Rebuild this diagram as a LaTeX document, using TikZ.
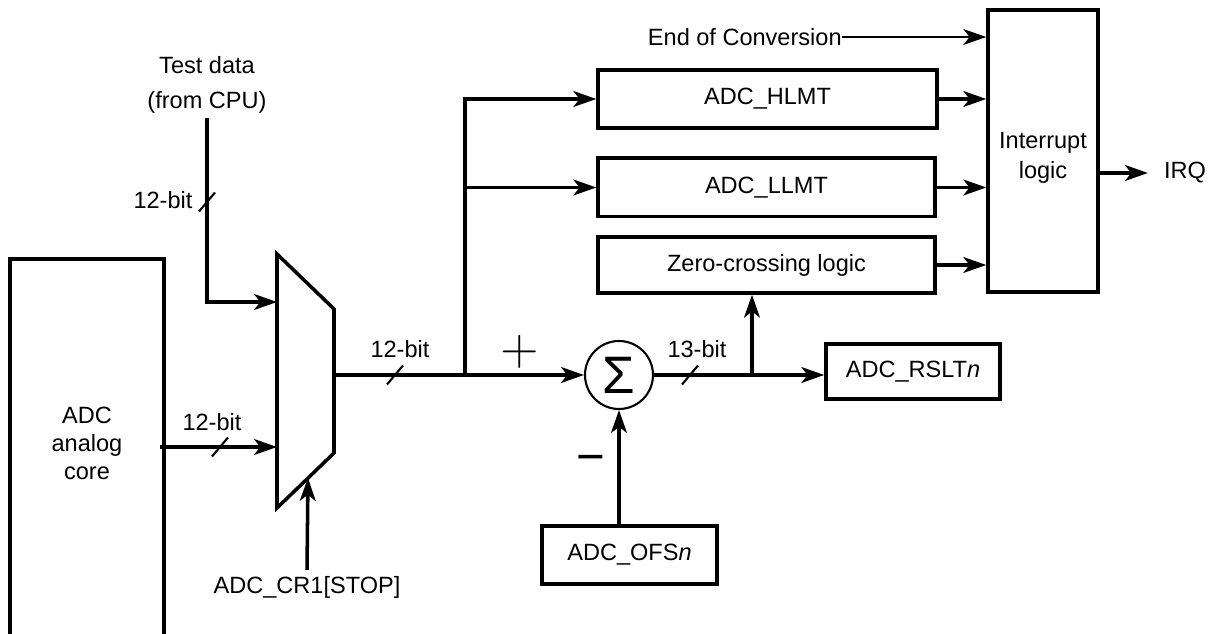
\documentclass[tikz,border=0pt]{standalone}
\usepackage{fontspec}
\setmainfont{Liberation Sans}
\usetikzlibrary{arrows.meta}

\tikzset{
  blk/.style={draw, line width=2pt, inner sep=0pt},
  wire/.style={line width=2pt},
  sig/.style={wire, -{Stealth[length=13pt, width=9pt, inset=3.5pt]}},
  bus/.style={line width=1.2pt},
}
\newcommand{\busmark}[1]{\draw[bus] #1 ++(-8,9.5) -- ++(16,-19);}

\begin{document}
\begin{tikzpicture}[x=0.02cm, y=-0.02cm, font=\fontsize{13.4}{16}\selectfont]
    \useasboundingbox (0,0) rectangle (1215,634);

    % Define coordinates
    \coordinate (muxtl) at (277,254);
    \coordinate (muxtr) at (334,309);
    \coordinate (muxbr) at (334,453);
    \coordinate (muxbl) at (277,508);
    \coordinate (muxin1) at (277,302);
    \coordinate (muxin2) at (277,447);
    \coordinate (muxout) at (334,375);
    \coordinate (muxsel) at (308,478);
    \coordinate (tin) at (207,118);
    \coordinate (corein) at (160,447);
    \coordinate (br) at (465,375);
    \coordinate (tap) at (752,375);

    % Blocks
    \draw[line width=2pt] (10,640) -- (10,259) -- (164,259) -- (164,640);
    \node[align=center, font=\fontsize{13.4}{15.9}\selectfont] (coretxt) at (87,443) {ADC\\analog\\core};
    \draw[wire, line join=miter] (muxtl) -- (muxtr) -- (muxbr) -- (muxbl) -- cycle;

    \node[blk, minimum width=6.78cm, minimum height=1.16cm] (hlmt) at (767.5,99) {ADC\_HLMT};
    \node[blk, minimum width=6.74cm, minimum height=1.17cm] (llmt) at (766.5,187.5) {ADC\_LLMT};
    \node[blk, minimum width=6.74cm, minimum height=1.12cm] (zero) at (766.5,265) {Zero-crossing logic};
    \node[blk, minimum width=2.2cm, minimum height=5.64cm] (intr) at (1043,151) {};
    \node[align=center, font=\fontsize{13.4}{17}\selectfont] (intrtxt) at (1043,158) {Interrupt\\logic};
    \node[blk, minimum width=3.48cm, minimum height=1.1cm] (rslt) at (913,371.5) {ADC\_RSLT\textit{n}};
    \node[blk, minimum width=3.5cm, minimum height=1.16cm] (ofs) at (629.5,555) {ADC\_OFS\textit{n}};
    \node[circle, draw, line width=1.2pt, minimum size=1.36cm, inner sep=0pt,
          font=\fontsize{30}{30}\selectfont] (sum) at (619,375) {Σ};

    % Labels
    \node[align=center, font=\fontsize{13.4}{19.8}\selectfont] (test) at (207,85) {Test data\\(from CPU)};
    \node (cr1) at (307,587) {ADC\_CR1[STOP]};
    \node[anchor=east, inner sep=0pt] (eoc) at (842,37) {End of Conversion};
    \node[inner xsep=9pt] (irq) at (1185,173) {IRQ};
    \node (plus) at (520,352) {\scalebox{2}{$+$}};
    \node[font=\fontsize{28}{28}\selectfont] (minus) at (591,464) {−};
    \node (b1) at (163,200) {12-bit};
    \node (b2) at (212,422) {12-bit};
    \node (b3) at (400,349) {12-bit};
    \node (b4) at (697,349) {13-bit};

    % Draw signals
    \draw[sig] (tin) |- (muxin1);
    \draw[sig] (corein) -- (muxin2);
    \draw[sig] (cr1.north) -- (muxsel);
    \draw[sig] (muxout) -- (sum.west);
    \draw[sig] (br) |- (hlmt.west);
    \draw[sig] (br |- llmt.west) -- (llmt.west);
    \draw[sig] (sum.east) -- (sum.east -| rslt.west);
    \draw[sig] (tap) -- (tap |- zero.south);
    \draw[sig] (sum.south |- ofs.north) -- (sum.south);
    \foreach \b in {hlmt,llmt,zero}
        \draw[sig] (\b.east) -- (\b.east -| intr.west);
    \draw[sig, line width=1.2pt] (eoc.east) -- (eoc.east -| intr.west);
    \draw[sig] (intr.east |- irq.west) -- (irq.west);

    % Bus widths
    \busmark{(207,202)}
    \busmark{(220,447)}
    \busmark{(395,375)}
    \busmark{(690,375)}
\end{tikzpicture}
\end{document}
